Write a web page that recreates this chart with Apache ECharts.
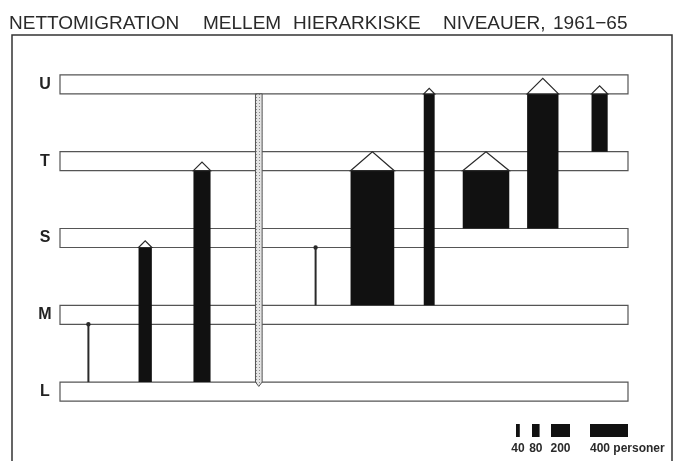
<!DOCTYPE html>
<html>
<head>
<meta charset="utf-8">
<script src="https://cdn.jsdelivr.net/npm/echarts@6/dist/echarts.min.js"></script>
<style>
  html, body { margin: 0; padding: 0; background: #fff; }
  #chart { width: 674px; height: 461px; }
</style>
</head>
<body>
<div id="chart"></div>
<script>
// hierarkiske niveauer, nederst til øverst
const levels = ['L', 'M', 'S', 'T', 'U'];
// strømme (fra -> til), en søjle pr. strøm
const flows = ['L-M', 'L-S', 'L-T', 'U-L', 'M-S', 'M-T', 'M-U', 'S-T', 'S-U', 'T-U'];
const fromLevel = [0, 0, 0, 4, 1, 1, 1, 2, 2, 3];
const toLevel = [1, 2, 3, 0, 2, 3, 4, 3, 4, 4];
const persons = [20, 140, 180, 70, 20, 460, 115, 490, 330, 170];
// signaturforklaring
const legendValues = [40, 80, 200, 400];
const legendLabels = ['40', '80', '200', '400 personer'];
// overskrift, ord for ord (bred ordafstand som i originalen)
const titleWords = ['NETTOMIGRATION', 'MELLEM', 'HIERARKISKE', 'NIVEAUER,', '1961−65'];
const titleX = [9, 203, 293, 443, 553];

const BAND_H = 19;
const PX_PER_PERSON = 0.095;
const INK = '#2a2a2a';
const FONT = '"Liberation Sans", Arial, sans-serif';

const barWidth = (n) => n * PX_PER_PERSON;

// prikket mønster til den nedadgående søjle
const makeDots = () => {
  const c = document.createElement('canvas');
  c.width = 3;
  c.height = 3;
  const ctx = c.getContext('2d');
  ctx.fillStyle = '#e4e4e4';
  ctx.fillRect(0, 0, 3, 3);
  ctx.fillStyle = '#8a8a8a';
  ctx.fillRect(1, 1, 1, 1);
  return c;
};
const dotPattern = { image: makeDots(), repeat: 'repeat' };

const flowData = flows.map((f, i) => [i, fromLevel[i], toLevel[i], persons[i]]);

const renderBand = (params, api) => {
  const cs = params.coordSys;
  const y = api.coord([0, api.value(0)])[1];
  return {
    type: 'rect',
    shape: { x: cs.x, y: y - BAND_H / 2, width: cs.width, height: BAND_H },
    style: { fill: '#fff', stroke: '#555', lineWidth: 1.2 }
  };
};

const renderFlow = (params, api) => {
  const cat = api.value(0);
  const from = api.value(1);
  const to = api.value(2);
  const n = api.value(3);
  const pFrom = api.coord([cat, from]);
  const pTo = api.coord([cat, to]);
  const x = pFrom[0];
  const up = to > from;
  const half = BAND_H / 2;
  const y0 = up ? pFrom[1] - half : pFrom[1] + half;
  const y1 = up ? pTo[1] + half : pTo[1] - half;
  const w = barWidth(n);

  // små strømme: streg med prik
  if (n < 30) {
    return {
      type: 'group',
      children: [
        { type: 'line', shape: { x1: x, y1: y0, x2: x, y2: y1 }, style: { stroke: INK, lineWidth: 2 } },
        { type: 'circle', shape: { cx: x, cy: y1, r: 2.2 }, style: { fill: INK } }
      ]
    };
  }

  // nedadgående strøm: prikket søjle med spids
  if (!up) {
    return {
      type: 'polygon',
      shape: {
        points: [
          [x - w / 2, y0], [x + w / 2, y0], [x + w / 2, y1],
          [x, y1 + w / 2 + 1], [x - w / 2, y1]
        ]
      },
      style: { fill: dotPattern, stroke: '#555', lineWidth: 1 }
    };
  }

  const headH = Math.min(w * 0.5, BAND_H);
  return {
    type: 'group',
    children: [
      {
        type: 'rect',
        shape: { x: x - w / 2, y: y1, width: w, height: y0 - y1 },
        style: { fill: '#111' }
      },
      {
        type: 'polygon',
        shape: { points: [[x - w / 2, y1], [x, y1 - headH], [x + w / 2, y1]] },
        style: { fill: '#fff', stroke: INK, lineWidth: 1.2 }
      }
    ]
  };
};

// signaturforklaring som grafik
const legendX = [516, 532, 551, 590];
const legendGraphics = [];
legendValues.forEach((v, i) => {
  const w = barWidth(v);
  legendGraphics.push({
    type: 'rect',
    shape: { x: legendX[i], y: 424, width: w, height: 13 },
    style: { fill: '#111' }
  });
  legendGraphics.push({
    type: 'text',
    x: i < 3 ? legendX[i] + w / 2 : legendX[i],
    y: 443,
    style: {
      text: legendLabels[i],
      fill: INK,
      font: 'bold 12px ' + FONT,
      align: i < 3 ? 'center' : 'left',
      verticalAlign: 'top'
    }
  });
});

const titleGraphics = titleWords.map((word, i) => ({
  type: 'text',
  x: titleX[i],
  y: 23.5,
  style: {
    text: word,
    fill: '#2a2a2a',
    font: '19px ' + FONT,
    align: 'left',
    verticalAlign: 'middle'
  }
}));

const chart = echarts.init(document.getElementById('chart'));
chart.setOption({
  animation: false,
  grid: { left: 60, right: 46, top: 46, bottom: 31 },
  xAxis: {
    type: 'category',
    data: flows,
    axisLine: { show: false },
    axisTick: { show: false },
    axisLabel: { show: false },
    splitLine: { show: false }
  },
  yAxis: {
    type: 'category',
    data: levels,
    axisLine: { show: false },
    axisTick: { show: false },
    splitLine: { show: false },
    axisLabel: {
      margin: 15,
      align: 'center',
      color: '#222',
      fontFamily: FONT,
      fontSize: 16,
      fontWeight: 'bold'
    }
  },
  graphic: [
    {
      type: 'rect',
      shape: { x: 12, y: 35, width: 660, height: 500 },
      style: { fill: 'none', stroke: '#333', lineWidth: 1.5 },
      silent: true
    },
    ...titleGraphics,
    ...legendGraphics
  ],
  series: [
    {
      type: 'custom',
      renderItem: renderBand,
      data: levels.map((l, i) => [i]),
      encode: { y: 0 },
      silent: true,
      z: 1
    },
    {
      type: 'custom',
      renderItem: renderFlow,
      data: flowData,
      encode: { x: 0, y: [1, 2] },
      silent: true,
      z: 2
    }
  ]
});
</script>
</body>
</html>
